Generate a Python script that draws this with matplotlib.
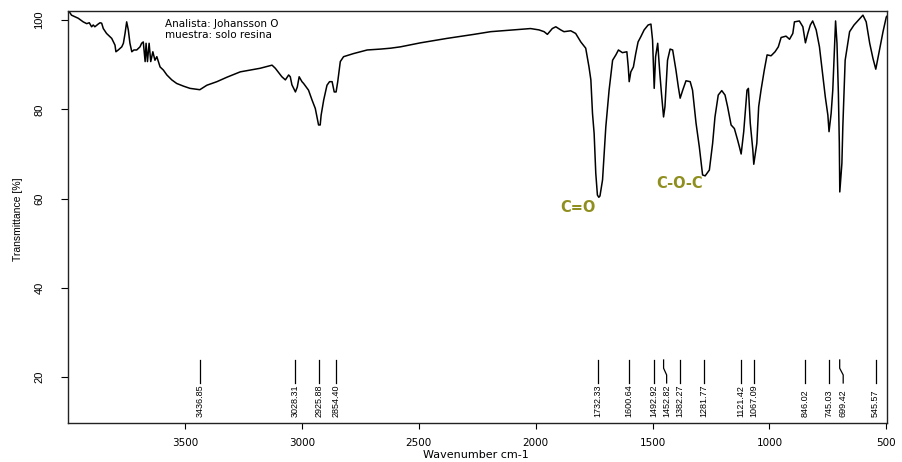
import matplotlib
matplotlib.use('Agg')
import matplotlib.pyplot as plt

# IR spectrum (wavenumber cm-1, transmittance %)
wavenumber = [3996, 3986, 3957, 3936, 3921, 3910, 3900, 3893, 3886, 3872, 3864, 3857,
              3850, 3836, 3814, 3800, 3796, 3786, 3771, 3764, 3757, 3750, 3743, 3736,
              3728, 3719, 3707, 3693, 3686, 3679, 3671, 3667, 3661, 3654, 3647, 3638,
              3629, 3621, 3607, 3593, 3578, 3557, 3536, 3507, 3479, 3450, 3437, 3407,
              3364, 3321, 3278, 3264, 3221, 3179, 3128, 3114, 3086, 3071, 3057, 3050,
              3043, 3028, 3020, 3012, 3000, 2993, 2972, 2957, 2943, 2936, 2929, 2922,
              2918, 2907, 2893, 2882, 2871, 2862, 2854, 2847, 2836, 2822, 2779, 2721,
              2664, 2621, 2579, 2493, 2379, 2264, 2193, 2093, 2022, 1986, 1964, 1950,
              1929, 1914, 1893, 1879, 1850, 1829, 1807, 1786, 1772, 1764, 1757, 1750,
              1743, 1736, 1730, 1725, 1714, 1707, 1700, 1686, 1671, 1657, 1646, 1629,
              1610, 1604, 1600, 1593, 1582, 1572, 1562, 1550, 1536, 1519, 1507, 1500,
              1496, 1493, 1487, 1478, 1469, 1462, 1453, 1447, 1436, 1425, 1414, 1400,
              1390, 1382, 1371, 1357, 1339, 1329, 1314, 1300, 1286, 1275, 1257, 1243,
              1233, 1219, 1204, 1190, 1179, 1164, 1150, 1136, 1128, 1121, 1110, 1103,
              1096, 1090, 1082, 1071, 1067, 1054, 1046, 1036, 1022, 1010, 993, 976,
              962, 950, 929, 914, 900, 893, 872, 857, 846, 836, 825, 815,
              800, 786, 771, 761, 750, 745, 736, 729, 722, 717, 711, 705,
              701, 699, 690, 686, 676, 657, 638, 619, 600, 586, 571, 557,
              545, 529, 514, 500, 493]
transmittance = [101.9, 101.1, 100.4, 99.6, 99.2, 99.4, 98.5, 98.9, 98.5, 99.1, 99.4, 99.3,
                 98.1, 97.0, 95.9, 94.4, 92.9, 93.3, 94.0, 94.8, 97.0, 99.6, 97.8, 94.8,
                 92.9, 93.3, 93.3, 94.0, 94.8, 95.1, 90.7, 94.8, 90.7, 94.8, 90.7, 92.9,
                 91.0, 91.8, 89.5, 88.8, 87.7, 86.6, 85.8, 85.2, 84.7, 84.5, 84.4, 85.4,
                 86.2, 87.2, 88.1, 88.4, 88.8, 89.2, 89.9, 89.2, 87.3, 86.6, 87.7, 87.3,
                 85.5, 83.9, 85.0, 87.3, 86.2, 85.8, 84.3, 82.1, 80.2, 78.3, 76.5, 76.5,
                 78.7, 82.1, 85.4, 86.2, 86.2, 83.9, 83.9, 86.2, 90.7, 91.8, 92.5, 93.3,
                 93.5, 93.7, 94.0, 94.9, 95.9, 96.8, 97.4, 97.8, 98.1, 97.8, 97.4, 96.8,
                 98.1, 98.5, 97.8, 97.4, 97.6, 97.0, 95.1, 93.7, 89.5, 86.6, 79.1, 74.6,
                 65.7, 60.8, 60.3, 60.6, 64.2, 70.1, 76.1, 84.3, 91.0, 92.2, 93.3, 92.7,
                 92.9, 89.5, 86.2, 88.4, 89.5, 92.5, 95.1, 96.3, 97.8, 98.9, 99.1, 95.5,
                 89.5, 84.7, 91.8, 94.8, 88.1, 83.6, 78.3, 80.6, 91.0, 93.5, 93.3, 88.8,
                 85.1, 82.5, 84.3, 86.4, 86.2, 84.3, 76.9, 71.6, 65.3, 65.1, 66.4, 72.4,
                 78.3, 83.2, 84.2, 83.2, 80.6, 76.5, 75.7, 73.1, 71.5, 70.0, 75.0, 79.8,
                 84.3, 84.7, 76.9, 70.9, 67.7, 72.4, 80.6, 84.3, 88.8, 92.2, 92.0, 92.9,
                 94.0, 96.1, 96.4, 95.7, 97.0, 99.6, 99.8, 98.5, 94.9, 97.0, 98.9, 99.8,
                 97.8, 94.0, 87.3, 82.8, 78.7, 75.0, 79.1, 84.3, 93.3, 99.8, 94.8, 83.6,
                 72.4, 61.5, 67.9, 76.1, 91.0, 97.4, 98.9, 100.0, 101.1, 99.6, 94.8, 91.4,
                 89.0, 93.3, 97.4, 100.7, 101.1]

peaks = [3436.85, 3028.31, 2925.88, 2854.40, 1732.33, 1600.64, 1492.92, 1452.82,
         1382.27, 1281.77, 1121.42, 1067.09, 846.02, 745.03, 699.42, 545.57]

xticks = [3500, 3000, 2500, 2000, 1500, 1000, 500]
yticks = [20, 40, 60, 80, 100]

fig = plt.figure(figsize=(9.02, 4.62), dpi=100)
ax = fig.add_axes([68 / 902, 1 - 422.7 / 462, 819 / 902, 412 / 462])

ax.plot(wavenumber, transmittance, color='black', lw=1.1)
ax.set_xlim(4001, 497)
ax.set_ylim(9.8, 102.1)

ax.set_xticks(xticks)
ax.set_xticklabels([str(t) for t in xticks], family='DejaVu Sans', fontsize=7.5)
ax.set_yticks(yticks)
ax.set_yticklabels([str(t) for t in yticks], family='Liberation Sans', fontsize=8,
                   rotation=90, va='center')
ax.tick_params(axis='x', direction='out', length=4, width=0.8, pad=7)
ax.tick_params(axis='y', direction='out', length=5, width=0.8, pad=12)
for s in ax.spines.values():
    s.set_linewidth(1.0)
    s.set_color('#222222')

# peak markers along the bottom; two labels nudged to avoid overlap
shift = {1452.82: -13, 699.42: -15}
for p in peaks:
    tx = p + shift.get(p, 0)
    if p in shift:
        ax.plot([p, p, tx, tx], [23.85, 22.0, 20.5, 18.7], color='black', lw=0.9)
    else:
        ax.plot([p, p], [23.85, 18.7], color='black', lw=0.9)
    ax.text(tx, 11.0, f'{p:.2f}', rotation=90, ha='center', va='bottom',
            fontsize=6.5, family='Liberation Sans')

ax.text(3586, 99.1, 'Analista: Johansson O', ha='left', va='center',
        fontsize=7.5, family='DejaVu Sans')
ax.text(3586, 96.6, 'muestra: solo resina', ha='left', va='center',
        fontsize=7.5, family='DejaVu Sans')

olive = '#8f8f1f'
ax.text(1821, 58.1, 'C=O', color=olive, fontsize=10.5, fontweight='bold',
        ha='center', va='center', family='DejaVu Sans')
ax.text(1383, 63.3, 'C-O-C', color=olive, fontsize=10.5, fontweight='bold',
        ha='center', va='center', family='DejaVu Sans')

fig.text(476 / 902, 1 - 455 / 462, 'Wavenumber cm-1', ha='center', va='center',
         fontsize=8, family='DejaVu Sans')
fig.text(18 / 902, 1 - 219 / 462, 'Transmittance [%]', ha='center', va='center',
         rotation=90, fontsize=7.5, family='Liberation Sans')

fig.savefig('out.png', dpi=100)
